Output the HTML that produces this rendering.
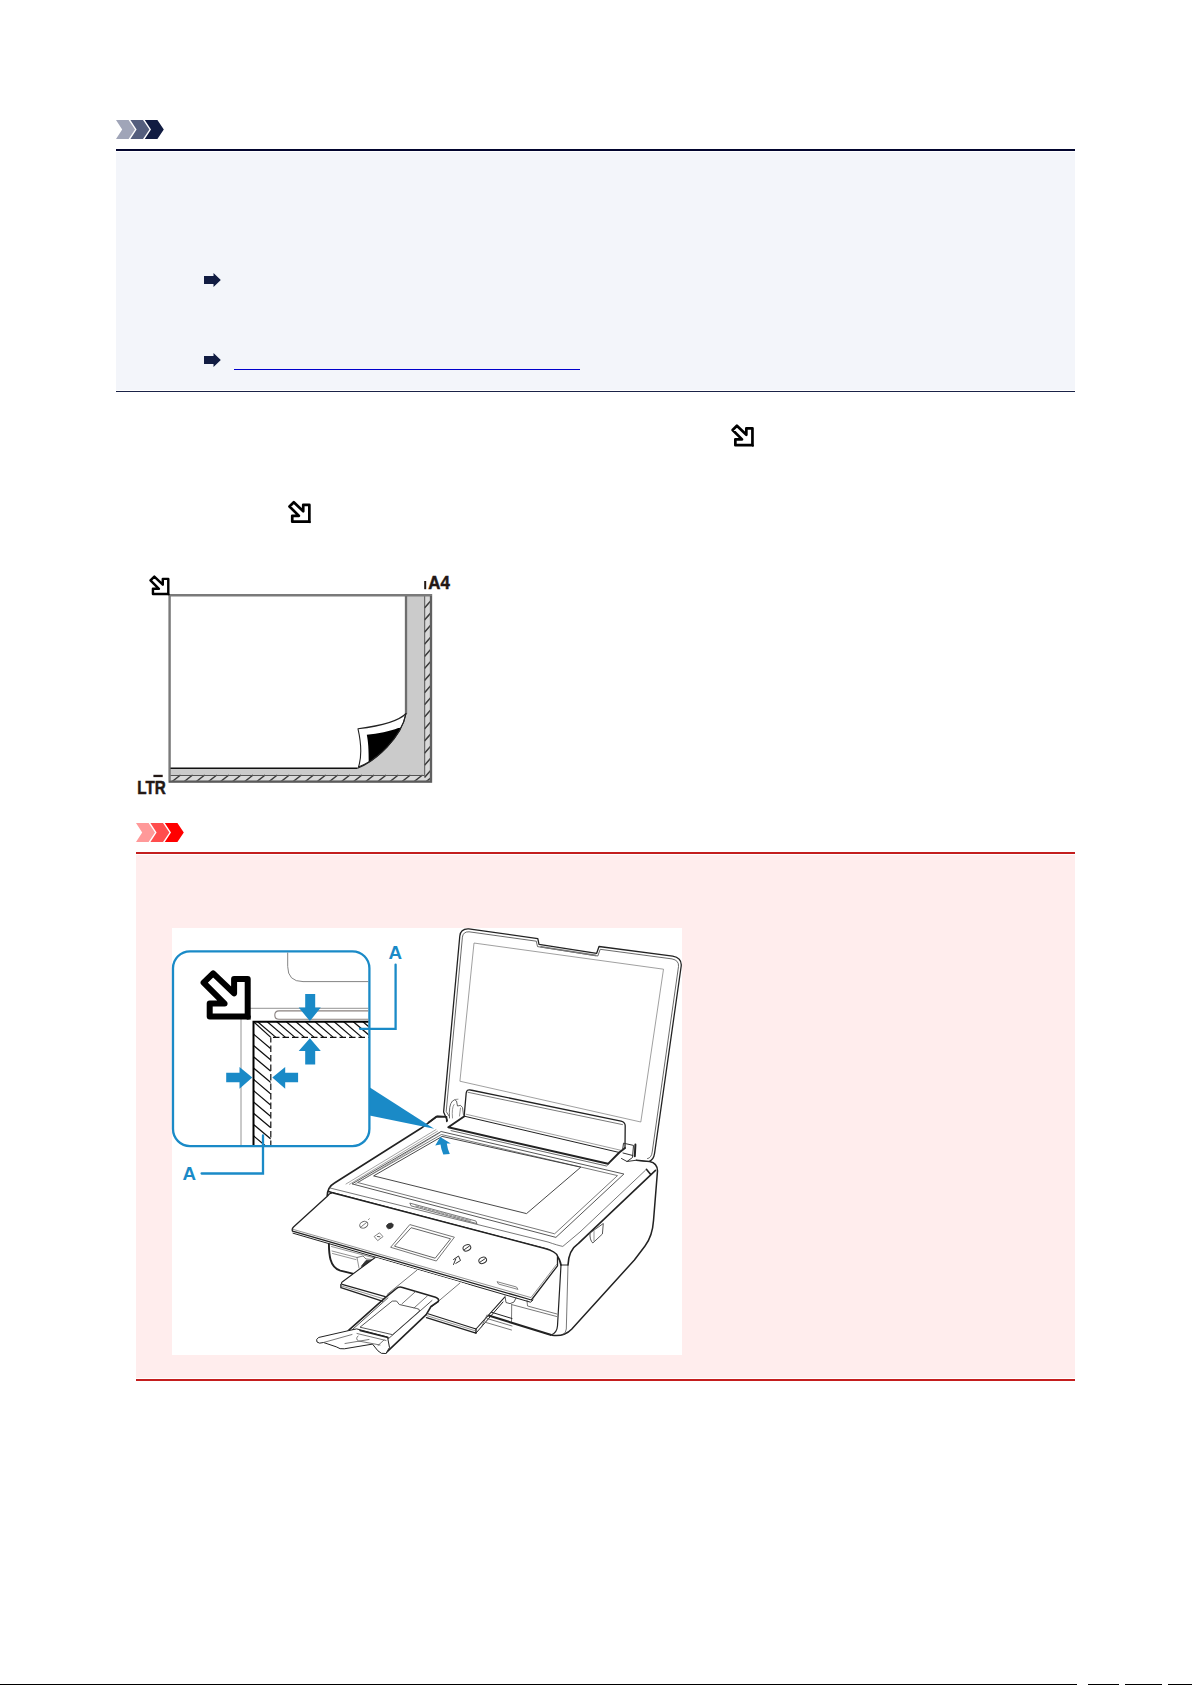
<!DOCTYPE html>
<html lang="en">
<head>
<meta charset="utf-8">
<title>Loading Originals</title>
<style>
html,body{margin:0;padding:0;background:#fff;}
body{width:1192px;height:1685px;position:relative;overflow:hidden;font-family:"Liberation Sans",sans-serif;}
.abs{position:absolute;}
#note-bg{left:116px;top:152px;width:959px;height:237.7px;background:#f3f5fa;}
#note-top{left:116px;top:149px;width:959px;height:2px;background:#02052f;}
#note-bot{left:116px;top:390.8px;width:959px;height:1.4px;background:#1a2247;}
#link-ul{left:234px;top:369px;width:346px;height:1px;background:#0000cc;}
#imp-bg{left:136px;top:855px;width:939px;height:523px;background:#ffeded;}
#imp-top{left:136px;top:852px;width:939px;height:2px;background:#c41e1e;}
#imp-bot{left:136px;top:1378.9px;width:939px;height:2.2px;background:#c41e1e;}
#illus-bg{left:171.5px;top:927.7px;width:510px;height:427.3px;background:#fff;}
svg{position:absolute;left:0;top:0;overflow:visible;}
</style>
</head>
<body>
<div class="abs" id="note-bg"></div>
<div class="abs" id="note-top"></div>
<div class="abs" id="note-bot"></div>
<div class="abs" id="link-ul"></div>
<div class="abs" id="imp-bg"></div>
<div class="abs" id="imp-top"></div>
<div class="abs" id="imp-bot"></div>
<div class="abs" id="illus-bg"></div>
<div class="abs" style="left:0;top:1684px;width:1077px;height:1px;background:#000"></div>
<div class="abs" style="left:1088px;top:1684px;width:31px;height:1px;background:#000"></div>
<div class="abs" style="left:1125px;top:1684px;width:37px;height:1px;background:#000"></div>
<div class="abs" style="left:1168px;top:1684px;width:24px;height:1px;background:#000"></div>
<svg id="art" width="1192" height="1685" viewBox="0 0 1192 1685">
<!-- ICONS -->
<defs>
<symbol id="corner-arrow" viewBox="0 0 50 50" overflow="visible">
<path d="M12.45 3.2 L33.4 23.3 L33.4 8.9 L47 8.9 L47 46.5 L9 46.5 L9 33.5 L23.9 33.5 L2.9 12.6 Z" fill="#fff" stroke="#000" stroke-width="6" stroke-linejoin="round"/>
<rect x="46" y="45.5" width="4" height="4" fill="#000"/>
</symbol>
<symbol id="chev" viewBox="0 0 19 19" overflow="visible">
<path d="M0 0 H12.6 L19 9.5 L12.6 19 H0 L6.2 9.5 Z"/>
</symbol>
<symbol id="rarrow" viewBox="0 0 17 14" overflow="visible">
<path d="M0 3 H9.5 V0 L16.8 7 L9.5 14 V11 H0 Z" fill="#111c42"/>
</symbol>
</defs>
<!-- note chevrons -->
<use href="#chev" x="116" y="120" width="19" height="19" fill="#a0a5b8"/>
<use href="#chev" x="130.4" y="120" width="19" height="19" fill="#545e7d"/>
<use href="#chev" x="144.8" y="120" width="19" height="19" fill="#111c42"/>
<!-- important chevrons -->
<use href="#chev" x="136" y="823" width="19" height="19" fill="#ff9999"/>
<use href="#chev" x="150.4" y="823" width="19" height="19" fill="#ff4d4d"/>
<use href="#chev" x="164.8" y="823" width="19" height="19" fill="#ff0000"/>
<!-- link arrows -->
<use href="#rarrow" x="204" y="273" width="17" height="14"/>
<use href="#rarrow" x="204" y="353" width="17" height="14"/>
<!-- inline corner icons -->
<use href="#corner-arrow" x="731.3" y="424.3" width="22.5" height="22.5"/>
<use href="#corner-arrow" x="288.2" y="500.8" width="22.5" height="22.5"/>
<!-- DIAGRAM -->
<g id="diagram">
<clipPath id="dclip"><rect x="169" y="595" width="262.5" height="187"/></clipPath>
<rect x="169.5" y="595.3" width="261" height="186" fill="#cbcbcb" stroke="none"/>
<rect x="425" y="595.3" width="6" height="186" fill="#d9d9d9"/>
<rect x="169.5" y="775.5" width="261" height="6" fill="#d9d9d9"/>
<!-- paper -->
<path d="M170 596 H406 V714 C401.5 737.8 375.3 761.1 357.5 768.3 H170 Z" fill="#fff"/>
<!-- hatch -->
<path d="M424.5 608.0 L431.5 600.0 M424.5 620.1 L431.5 612.1 M424.5 632.2 L431.5 624.2 M424.5 644.3 L431.5 636.3 M424.5 656.4 L431.5 648.4 M424.5 668.5 L431.5 660.5 M424.5 680.6 L431.5 672.6 M424.5 692.7 L431.5 684.7 M424.5 704.8 L431.5 696.8 M424.5 716.9 L431.5 708.9 M424.5 729.0 L431.5 721.0 M424.5 741.1 L431.5 733.1 M424.5 753.2 L431.5 745.2 M424.5 765.3 L431.5 757.3 M424.5 777.4 L431.5 769.4" stroke="#3a3a3a" stroke-width="1.5" fill="none" clip-path="url(#dclip)"/>
<path d="M171.5 782 L180.5 775 M183.6 782 L192.6 775 M195.7 782 L204.7 775 M207.8 782 L216.8 775 M219.9 782 L228.9 775 M232.0 782 L241.0 775 M244.1 782 L253.1 775 M256.2 782 L265.2 775 M268.3 782 L277.3 775 M280.4 782 L289.4 775 M292.5 782 L301.5 775 M304.6 782 L313.6 775 M316.7 782 L325.7 775 M328.8 782 L337.8 775 M340.9 782 L349.9 775 M353.0 782 L362.0 775 M365.1 782 L374.1 775 M377.2 782 L386.2 775 M389.3 782 L398.3 775 M401.4 782 L410.4 775 M413.5 782 L422.5 775 M425.6 782 L434.6 775" stroke="#3a3a3a" stroke-width="1.5" fill="none" clip-path="url(#dclip)"/>
<!-- strip inner lines -->
<path d="M424.7 596 V775.5 H170" stroke="#555" stroke-width="1" fill="none"/>
<!-- outer border -->
<path d="M169.6 782 V595.3 H431 V781.6 H168.4" stroke="#7a7a7a" stroke-width="2.4" fill="none"/>
<path d="M431 596 V781.6 H169" stroke="#5a5a5a" stroke-width="1.6" fill="none"/>
<!-- paper edges -->
<path d="M406 596 V714" stroke="#6e6e6e" stroke-width="2.3" fill="none"/>
<path d="M170.5 768.2 H357.5" stroke="#111" stroke-width="1.6" fill="none"/>
<!-- curl -->
<path d="M406 713.5 C398 722 380 726 358 728.8 C361 742 362 756 358.5 767 C376 760.5 401.5 737.8 406 713.5 Z" fill="#fff" stroke="#222" stroke-width="1.1" stroke-linejoin="round"/>
<clipPath id="flapclip"><path d="M406 713.5 C398 722 380 726 358 728.8 C361 742 362 756 358.5 767 C376 760.5 401.5 737.8 406 713.5 Z"/></clipPath>
<path d="M366.8 734.8 C378 733.5 390 731 398.2 727.9 L412 727 L412 772 L368.7 772 C368.9 752 368.5 743 366.8 734.8 Z" fill="#000" clip-path="url(#flapclip)"/>
<path d="M406 713.5 C401.5 737.8 375.3 761.1 357.5 768.3" stroke="#222" stroke-width="1.2" fill="none"/>
<!-- icon -->
<use href="#corner-arrow" x="149.3" y="575.3" width="20.2" height="20.2"/>
<!-- labels -->
<rect x="424.2" y="581" width="2" height="8.2" fill="#231815"/>
<text x="428.3" y="589.2" font-family="'Liberation Sans',sans-serif" font-weight="bold" font-size="18" fill="#231815" stroke="#231815" stroke-width="0.5" textLength="21.5" lengthAdjust="spacingAndGlyphs">A4</text>
<rect x="153.4" y="774.8" width="9.3" height="2.3" fill="#231815"/>
<text x="137.3" y="794.4" font-family="'Liberation Sans',sans-serif" font-weight="bold" font-size="18" fill="#231815" stroke="#231815" stroke-width="0.5" textLength="28.5" lengthAdjust="spacingAndGlyphs">LTR</text>
</g>
<!-- PRINTER -->
<g id="printer" fill="none" stroke="#222" stroke-width="1.1" stroke-linejoin="round" stroke-linecap="round">
<!-- ===== body outline ===== -->
<path d="M333 1184 L421 1128.3 L437.2 1116.4 L446.5 1116.8 L448.3 1127.3 L608 1163.8 L619.3 1152.5 L636.4 1160.2 L649.5 1161.5 Q657.5 1163 657.5 1171 L653.5 1220.6 Q652.5 1236 645 1246 L634.4 1260 L571.6 1329.2 Q564 1336.8 553 1335.6 L487 1315 L475.9 1333 L341 1288 L341 1283.5 L353.7 1273.6 Q331 1270 330 1256 L328.8 1244 L292.5 1230 Q326 1197 327.5 1195 Q328 1187 333 1184 Z" fill="#fff" stroke="none"/>
<!-- left top edge -->
<path d="M327.2 1196 Q327.5 1187 334.5 1183 L421 1128.3 L437.2 1116.4 L446.5 1116.8" stroke-width="1.6"/>
<!-- platen frame -->
<path d="M441.5 1131.6 L623.9 1174 L555.9 1237.4 L352.5 1184 Z" stroke="#444" stroke-width="0.9"/>
<path d="M441.8 1134.6 L617.5 1175.6 L554.6 1233.8 L358 1182.6 Z" stroke="#555" stroke-width="0.8"/>
<path d="M437.5 1131.2 L349.5 1184.3 M439.5 1133 L355 1184.2 M436 1129.6 L346 1184" stroke="#666" stroke-width="0.6"/>
<!-- paper -->
<path d="M442.5 1136.5 L580.8 1167.2 L526.5 1213.6 L374 1176 Z" stroke="#333" stroke-width="0.9"/>
<!-- ruler strip -->
<path d="M410.2 1203.2 L475.9 1221 L477 1223.6 L411.5 1206 Z" stroke="#555" stroke-width="0.8"/>
<path d="M416 1206 L470 1220.5" stroke="#999" stroke-width="1.5" stroke-dasharray="2.5 1.8"/>
<!-- top surface front edge -->
<path d="M330 1188 L548 1242 Q558 1245.5 562.8 1246.4 L580 1232 L645.4 1170.3" stroke="#555" stroke-width="0.8"/>
<!-- front top edge (thick) -->
<path d="M328.7 1191.5 L333.2 1193" stroke-width="1.4"/>
<path d="M333.2 1193 L545 1248.6 Q558.5 1252 561 1265" stroke-width="1.7"/>
<!-- right top edge + right side -->
<path d="M568 1265 Q568.5 1250 578.5 1243.3 L655.5 1170.3" stroke-width="1.6"/>
<path d="M561 1265 L568 1265" stroke-width="1"/>
<path d="M636.4 1160.2 L649.5 1161.5 Q657.5 1163 657.5 1171 L653.5 1220.6 Q652.5 1236 645 1246 L634.4 1260 L571.6 1329.2 Q564 1337 552 1335.2" stroke-width="1.5"/>
<path d="M646.4 1169.3 L650.5 1174.3" stroke-width="1.6"/>
<!-- front right vertical edges -->
<path d="M561 1265 L557.5 1325.7 Q557 1333 551 1335" stroke-width="1.2"/>
<path d="M568 1265 L566.3 1329 Q566 1333 563 1334.5" stroke="#555" stroke-width="0.8"/>
<!-- side cutout -->
<path d="M590 1233 L603.3 1223.5 L602.4 1234 L592.8 1243 Q589.5 1240 590 1233 Z" stroke="#444" stroke-width="0.9"/>
<path d="M594 1231 L594 1241" stroke="#666" stroke-width="0.7"/>
<!-- cassette front -->
<path d="M511.7 1304.6 L556.6 1316.5 M511.7 1304.6 L511.5 1322 M527 1300.5 L527.5 1306 L557 1314" stroke="#555" stroke-width="0.8"/>
<path d="M487 1315 L550.5 1334.8" stroke-width="2.2"/>
<path d="M489 1311.5 L512 1318.5" stroke-width="1"/>
<path d="M505 1296 L506 1302.5 Q510 1305 514 1302 L516 1298" stroke="#444" stroke-width="0.9"/>
<!-- ===== operation panel ===== -->
<path d="M333.2 1193 L545 1248.6 Q556 1251.5 557.5 1256 L557.5 1265.8 L531.4 1300 L292.5 1231.2 Q291.5 1229 293.5 1227 L327 1196.5 Q330 1192.5 333.2 1193 Z" fill="#fff" stroke-width="1.3"/>
<path d="M293 1233.2 L530.5 1302.2 L533 1300" stroke-width="1"/>
<path d="M293.2 1229.4 L531 1297.6 L556.5 1264.5" stroke="#666" stroke-width="0.7"/>
<!-- LCD -->
<path d="M410.2 1224.7 L454.4 1237.2 L436.3 1261 L391 1247.4 Z" stroke="#666" stroke-width="0.9"/>
<path d="M411.5 1227.8 L450.6 1238.8 L435.2 1258.2 L394.8 1246.3 Z" stroke="#555" stroke-width="0.9"/>
<!-- buttons -->
<ellipse cx="363.8" cy="1224.7" rx="4.2" ry="3.2" transform="rotate(-25 363.8 1224.7)" stroke="#555" stroke-width="0.9"/>
<path d="M361.5 1226.5 L366.5 1222.5 M368.5 1219.5 L369.3 1218.8" stroke="#555" stroke-width="0.8"/>
<ellipse cx="389.9" cy="1225.9" rx="3.4" ry="2.6" transform="rotate(-25 389.9 1225.9)" fill="#333" stroke="#333" stroke-width="0.8"/>
<path d="M374.5 1236.3 L379.5 1232.8 L383 1236.6 L378 1240.4 Z" stroke="#666" stroke-width="0.8"/>
<path d="M377.5 1236.5 L380 1236.8" stroke="#555" stroke-width="1"/>
<ellipse cx="466.9" cy="1247.8" rx="4" ry="3" transform="rotate(-25 466.9 1247.8)" stroke="#333" stroke-width="1"/>
<path d="M464.5 1249.5 L469.5 1246" stroke="#333" stroke-width="1"/>
<ellipse cx="482.7" cy="1260.3" rx="4" ry="3" transform="rotate(-25 482.7 1260.3)" stroke="#333" stroke-width="1"/>
<path d="M480.2 1262 L485.4 1258.5" stroke="#333" stroke-width="1"/>
<path d="M453.5 1259.5 L458.5 1256 L460.5 1260.5 L455.8 1263.4 M453.5 1264.5 L455.8 1259" stroke="#333" stroke-width="1"/>
<!-- small rect -->
<path d="M497.4 1281.8 L516.5 1287 L518 1289.4 L499 1284.2 Z" stroke="#666" stroke-width="0.8"/>
<!-- ===== left inner / cassette ===== -->
<path d="M328.9 1244.1 Q329 1254 330.5 1259.5 Q333 1268.5 340.3 1270.6 L353.7 1273.8" stroke-width="1.9"/>
<path d="M331.5 1246.5 L373.8 1257.8 M332 1251 L357 1257.5 L359 1268 M332.5 1253.5 L356 1259.6" stroke="#666" stroke-width="0.7"/>
<path d="M357 1257.5 L363 1256 L366 1259 L372 1259.5" stroke="#555" stroke-width="0.8"/>
<path d="M361.5 1266 L366 1260.5 L371 1260.5 L364 1268 Z" fill="#333" stroke="#333" stroke-width="0.8"/>
<!-- ===== output tray ===== -->
<path d="M375.2 1257.5 L342.5 1281.7 Q340.5 1283.5 340.9 1285 L340.9 1287.7 L475.9 1333.2 L476 1329 L504.5 1297.3 L460 1282 Z" fill="#fff" stroke="none"/>
<path d="M375.2 1257.5 L342.5 1281.7 Q340.2 1283.8 343 1284.6 L385.2 1296.6" stroke-width="1.1"/>
<path d="M340.9 1284.5 L340.9 1287.7 L383 1301.4" stroke-width="1.4"/>
<path d="M341.5 1286 L384 1299" stroke="#666" stroke-width="0.7"/>
<path d="M416.8 1270.3 L387.2 1294.4 M460 1283 L432.2 1306.5" stroke="#555" stroke-width="0.8"/>
<path d="M428 1313.8 L476 1329 L504.5 1297.3" stroke-width="1.1"/>
<path d="M426.5 1317.6 L475.9 1333.2 L476 1329" stroke-width="1.4"/>
<path d="M427 1315.7 L476 1331" stroke="#666" stroke-width="0.7"/>
<path d="M475.9 1333.2 L503 1302" stroke-width="1"/>
<!-- tray under-part on right -->
<path d="M481.5 1327 L487 1315 M486 1322.5 L511.5 1330 M487 1318.5 L512 1326" stroke="#555" stroke-width="0.8"/>
<!-- extension -->
<path d="M400 1287 L438.3 1298.5 L385.9 1352.8 L348.3 1330.7 Z" fill="#fff" stroke="none"/>
<path d="M348.3 1330.7 L385.9 1297.1 L396.5 1288.5 Q399 1286.3 402.5 1287.4 L435.5 1297.2 Q439.5 1298.6 438.3 1301.5 L431 1306.5 L426.2 1314.6 L385.9 1352.8" stroke-width="1.6"/>
<path d="M388 1297.8 L352.5 1329.5 M432 1300.5 L379.2 1346.8" stroke="#444" stroke-width="0.9"/>
<path d="M392.6 1301.1 L396.5 1301 L399.3 1304.5 L416.8 1308.5 Q420 1309 419.5 1311 L392.6 1334.7 L360.4 1327.3 Z" stroke="#444" stroke-width="0.9"/>
<path d="M415.4 1291.7 L402 1303.8 M427.5 1295.8 L414.1 1307.9" stroke="#555" stroke-width="0.8"/>
<!-- flap -->
<path d="M348.3 1330.7 L318.5 1337.5 Q315.5 1339.5 317 1342 Q319 1344 323.5 1342.5 L336.2 1346.8 Q340 1349.5 344.3 1348.8 L372.5 1344.1 L377.9 1350.8 Q381 1354.5 385.9 1353.5 L389.5 1347.5 L387.5 1337 L357 1329 Z" fill="#fff" stroke-width="1"/>
<path d="M323.5 1342.5 L352 1334.5 M357 1333.5 L386 1340.5 M358 1336 Q355 1339 358.5 1341 L380 1345 M345 1343.5 L369 1339.5 M378 1345.5 L384 1340" stroke="#555" stroke-width="0.8"/>
<path d="M360 1330.5 L388 1337.5" stroke-width="1.5"/>
<!-- ===== lid ===== -->
<path d="M447.3 1120 L443.6 1112 L459.8 936 Q460.6 928.4 468.7 928.8 L537.8 938.6 L539 944.3 L596.7 953.3 L599 946.5 L672.7 956.1 Q682 958 681.2 966 L654.6 1153.2 Q653.5 1160.5 649 1161.3 L636.4 1160.2 L625 1148 L625 1125 L467 1090 L464.2 1116 Z" fill="#fff" stroke="none"/>
<path d="M447.3 1120.5 L443.6 1112 L459.8 936 Q460.6 928.4 468.7 928.8 L537.8 938.6 L539 944.3 L596.7 953.3 L599 946.5 L672.7 956.1 Q682 958 681.2 966 L654.6 1153.2 Q653.5 1160.5 649 1161.3 L636.4 1160.2" stroke-width="1.3"/>
<path d="M449 1116 L446.2 1111.5 L462.4 937.2 Q463 931.6 469 931.8 L536.3 941.2 L537.5 946.6 L597.8 956 L600.2 949.3 L672 958.9 Q679.2 960.4 678.5 966.5 L652.2 1152 Q651.5 1158 647.5 1158.6" stroke="#444" stroke-width="0.8"/>
<path d="M541 946.8 L595.5 955.4" stroke="#777" stroke-width="1.6"/>
<!-- lid inner rect -->
<path d="M474.4 943.1 L663.5 969.2 L640.8 1122 L460.3 1081.3 Z" stroke="#777" stroke-width="0.7"/>
<!-- lower panel -->
<path d="M464.2 1115.5 L466.2 1093 Q466.8 1089 470.5 1090 L621 1121.2 Q625.3 1122.3 625.2 1126 L625 1148" stroke-width="1.3"/>
<path d="M468 1092.3 L622.5 1124.6" stroke="#555" stroke-width="0.8"/>
<!-- hinge strip -->
<path d="M464.4 1116.2 L619.3 1152.5" stroke-width="1"/>
<path d="M466 1114.2 L620.5 1150.2" stroke="#777" stroke-width="0.7"/>
<path d="M464.4 1116.2 L448.3 1127.3 L608 1163.8 L619.3 1152.5 L625 1148" stroke-width="1.9"/>
<path d="M451 1130.6 L606.5 1166 L609.5 1163.2" stroke="#444" stroke-width="0.8"/>
<!-- left hinge -->
<path d="M449.5 1118 Q448.5 1105 452.5 1101 Q455 1098.5 456.5 1101 L457.5 1106 Q461 1104 462.5 1107.5 L463.5 1115" stroke="#555" stroke-width="0.9"/>
<path d="M452.5 1118 Q451.5 1108 454 1104.5 M455 1099.5 L458 1099.2 M459.5 1116 L460.5 1108" stroke="#777" stroke-width="0.8"/>
<path d="M428.5 1122.5 L436.5 1116.5 L446.5 1116.8 L446.8 1121.5" stroke-width="1.6"/>
<!-- right hinge -->
<path d="M622.6 1150 L623.5 1143.2 L633.5 1145.4 L632.5 1157.5 L627 1161.5 L621.5 1158.5 M627 1161.5 L636.4 1160.2 M623 1153 L632.8 1155.5" stroke="#333" stroke-width="1"/><path d="M635.4 1144.6 L634.8 1156.2" stroke="#222" stroke-width="2"/>

</g>
<!-- INSET -->
<g id="inset">
<path d="M369.5 1087.3 L434.2 1128.8 L369.5 1115.6 Z" fill="#1a8ac7"/>
<path d="M440.3 1136.9 L450.8 1143.4 L446.8 1143.6 Q447.5 1149 449.8 1154 L443.3 1154.5 Q441 1149 440.5 1144.4 L435.2 1145.4 Z" fill="#1a8ac7"/>
<rect x="173" y="951.3" width="196.4" height="194.8" rx="17" ry="17" fill="#fff" stroke="#1a8ac7" stroke-width="2.3"/>
<clipPath id="iclip"><rect x="174.1" y="952.4" width="194.2" height="192.6" rx="15.9" ry="15.9"/></clipPath>
<g clip-path="url(#iclip)" fill="none">
<path d="M287.7 950 V966.5 Q287.7 981.6 303 981.6 H370" stroke="#777" stroke-width="0.9"/>
<path d="M249 1008.3 H370" stroke="#888" stroke-width="0.9"/>
<path d="M370 1010.9 H279 Q274.8 1010.9 274.8 1015.1 Q274.8 1019.3 279 1019.3 H370" stroke="#8a8280" stroke-width="1.1"/>
<path d="M241 1019 V1147" stroke="#888" stroke-width="0.9"/>
<clipPath id="hclip"><path d="M253.5 1021.7 H370 V1037.4 H270.8 V1147 H253.5 Z"/></clipPath>
<g clip-path="url(#hclip)" stroke="#111" stroke-width="1.25">
<path d="M257.6 1021.7 L275.9 1037.4 M267.2 1021.7 L285.5 1037.4 M276.7 1021.7 L295.0 1037.4 M286.3 1021.7 L304.6 1037.4 M295.9 1021.7 L314.2 1037.4 M305.4 1021.7 L323.8 1037.4 M315.0 1021.7 L333.3 1037.4 M324.6 1021.7 L342.9 1037.4 M334.2 1021.7 L352.5 1037.4 M343.7 1021.7 L362.0 1037.4 M353.3 1021.7 L371.6 1037.4 M362.9 1021.7 L381.2 1037.4"/>
<path d="M253.5 1034.1 L270.8 1048.7 M253.5 1045.4 L270.8 1060.0 M253.5 1056.7 L270.8 1071.3 M253.5 1068.0 L270.8 1082.6 M253.5 1079.3 L270.8 1093.9 M253.5 1090.6 L270.8 1105.2 M253.5 1101.9 L270.8 1116.5 M253.5 1113.2 L270.8 1127.8 M253.5 1124.5 L270.8 1139.1 M253.5 1135.8 L270.8 1150.4 M253.5 1147.1 L270.8 1161.7"/>
<path d="M253.5 1021.7 L270.8 1037.4"/>
</g>
<path d="M253.5 1147 V1021.7 H370" stroke="#000" stroke-width="2"/>
<path d="M270.8 1147 V1037.4" stroke="#111" stroke-width="1.2" stroke-dasharray="6.5 3"/>
<path d="M273 1037.4 H370" stroke="#111" stroke-width="1.2" stroke-dasharray="6.5 3"/>
</g>
<use href="#corner-arrow" x="200.7" y="970.1" width="50" height="50"/>
<g fill="#1a8ac7">
<path d="M305.2 994 H315.2 V1007.6 H320.8 L309.9 1021.1 L298.7 1007.6 H305.2 Z"/>
<path d="M305.2 1064.4 H315.2 V1051.1 H320.8 L309.9 1038.2 L298.7 1051.1 H305.2 Z"/>
<path d="M298.1 1072.8 V1082.2 H285.2 V1088.7 L272.3 1077.5 L285.2 1067 V1072.8 Z"/>
<path d="M226.2 1072.8 V1082.2 H239.5 V1088.7 L252.3 1077.5 L239.5 1067 V1072.8 Z"/>
</g>
<path d="M395.6 964.6 V1028.8 H360" fill="none" stroke="#1a8ac7" stroke-width="2.3" stroke-linecap="round"/>
<path d="M201.6 1173.5 H263 V1135.5" fill="none" stroke="#1a8ac7" stroke-width="2.3" stroke-linecap="round"/>
<text x="388.6" y="959.1" font-family="'Liberation Sans',sans-serif" font-weight="bold" font-size="18.8" fill="#1a8ac7">A</text>
<text x="182.4" y="1180.1" font-family="'Liberation Sans',sans-serif" font-weight="bold" font-size="18.8" fill="#1a8ac7">A</text>
</g>
</svg>
</body>
</html>
